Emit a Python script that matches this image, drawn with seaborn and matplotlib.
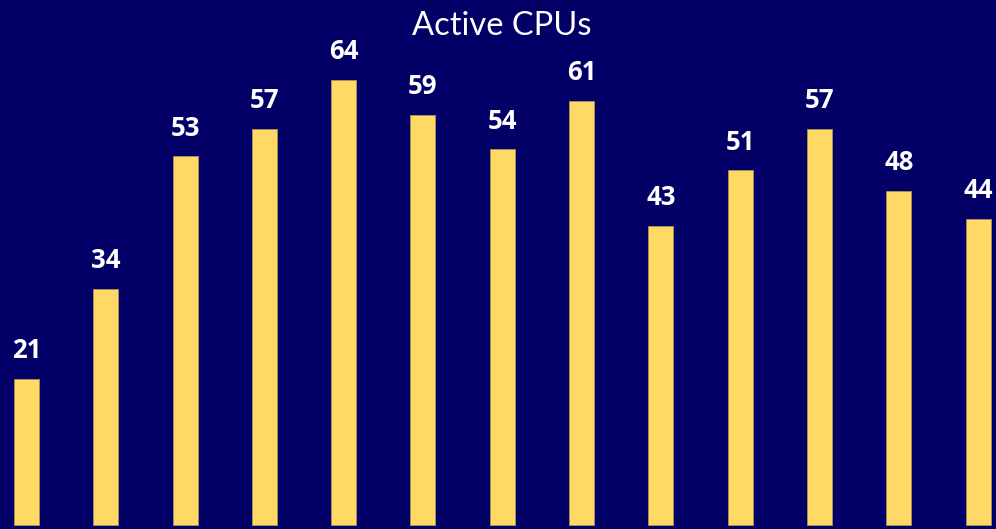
import matplotlib
matplotlib.use("Agg")
import matplotlib.pyplot as plt
import seaborn as sns
import pandas as pd

# Active CPU counts per sample period
periods = ["P1", "P2", "P3", "P4", "P5", "P6", "P7", "P8", "P9", "P10", "P11", "P12", "P13"]
active_cpus = [21, 34, 53, 57, 64, 59, 54, 61, 43, 51, 57, 48, 44]

BG = "#020066"
BAR = "#FFD966"

sns.set_theme(style="white")
plt.rcParams["font.family"] = ["Lato", "DejaVu Sans"]

df = pd.DataFrame({"period": periods, "cpus": active_cpus})

fig = plt.figure(figsize=(9.96, 5.29), dpi=100, facecolor=BG)
ax = fig.add_axes([0, 0, 1, 1])
ax.set_facecolor(BG)

sns.barplot(data=df, x="period", y="cpus", order=periods, color=BAR,
            saturation=1, width=0.315, edgecolor="#a8955a", linewidth=0.6,
            ax=ax)

for i, v in enumerate(active_cpus):
    ax.annotate(str(v), xy=(i, v), xytext=(0, 15), textcoords="offset points",
                ha="center", va="baseline", color="white", fontsize=18.5,
                fontweight="bold", family=["Open Sans", "DejaVu Sans"])

ax.set_xlim(-0.334, 12.226)
ax.set_ylim(-0.58, 75.5)
ax.axis("off")

fig.text(0.504, 0.934, "Active CPUs", ha="center", va="baseline",
         color="white", fontsize=23.5)

fig.savefig("out.png", dpi=100, facecolor=BG)
